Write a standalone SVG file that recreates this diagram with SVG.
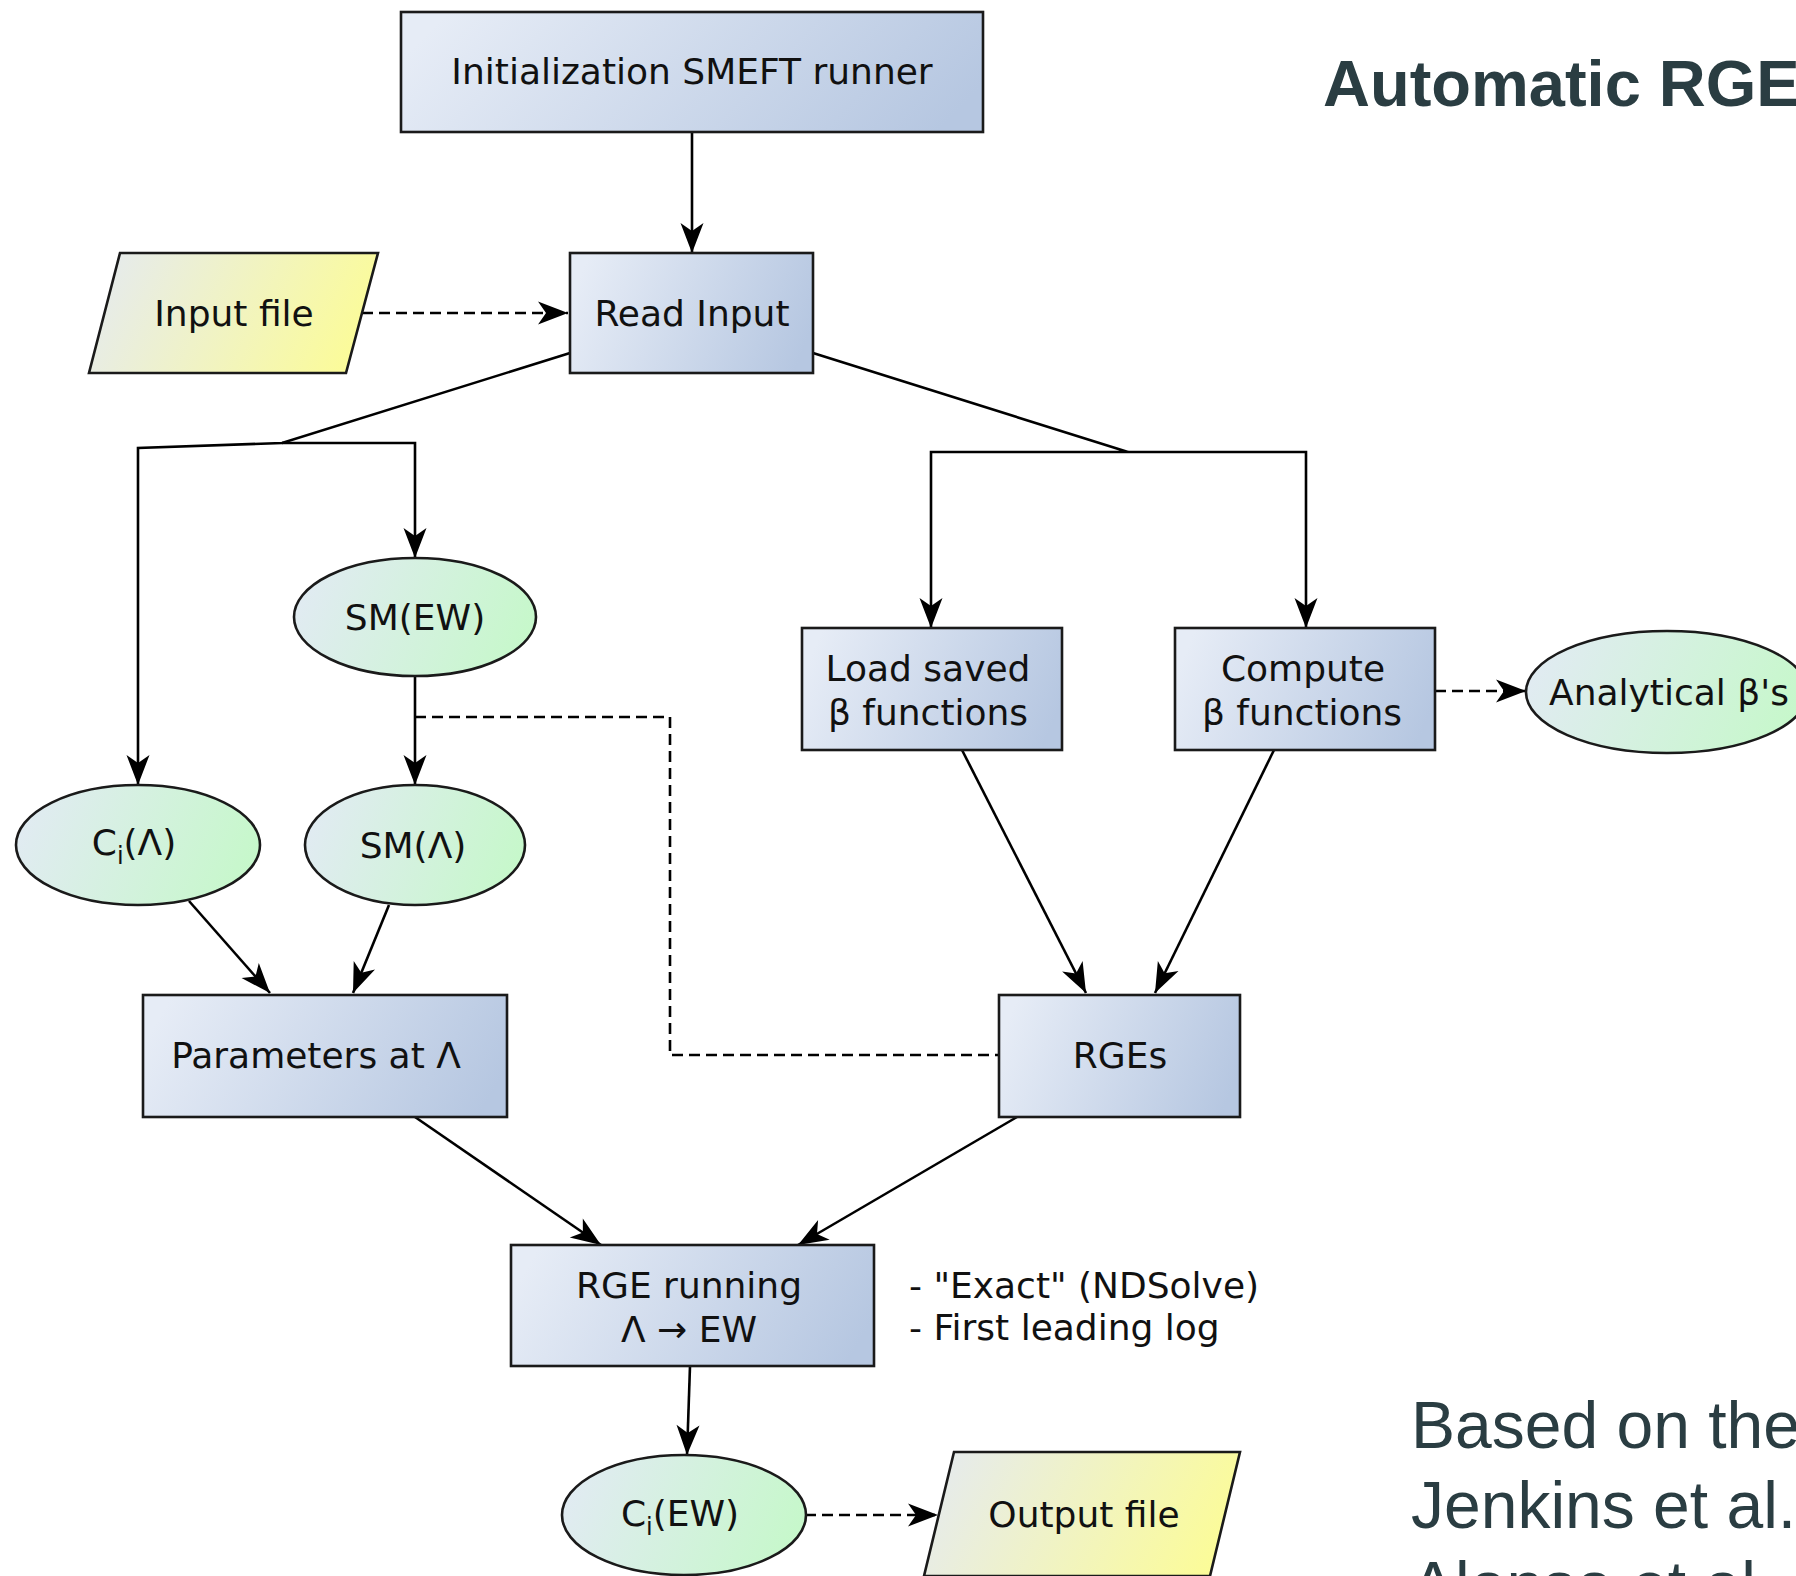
<svg xmlns="http://www.w3.org/2000/svg" width="1796" height="1576" viewBox="0 0 1796 1576">
  <defs>
    <linearGradient id="gBox" x1="0" y1="0.4" x2="1" y2="0.6">
      <stop offset="0" stop-color="#e6ecf6"/>
      <stop offset="1" stop-color="#b6c7e1"/>
    </linearGradient>
    <linearGradient id="gEll" x1="0" y1="0.4" x2="1" y2="0.6">
      <stop offset="0" stop-color="#e1ebf2"/>
      <stop offset="1" stop-color="#c6f8ca"/>
    </linearGradient>
    <linearGradient id="gFile" x1="0" y1="0.4" x2="1" y2="0.6">
      <stop offset="0" stop-color="#e6ebec"/>
      <stop offset="1" stop-color="#fcfc96"/>
    </linearGradient>
    <marker id="arr" viewBox="-32 -13 34 26" markerWidth="34" markerHeight="26" refX="0" refY="0" orient="auto" markerUnits="userSpaceOnUse">
      <path d="M0,0 L-30,-11.5 L-22,0 L-30,11.5 Z" fill="#000"/>
    </marker>
    <style>
      .box { fill: url(#gBox); stroke: #1a1a1a; stroke-width: 2.6; }
      .ell { fill: url(#gEll); stroke: #1a1a1a; stroke-width: 2.6; }
      .file { fill: url(#gFile); stroke: #1a1a1a; stroke-width: 2.6; }
      .lbl { font-family: "DejaVu Sans", "Liberation Sans", sans-serif; font-size: 36px; fill: #111; text-anchor: middle; }
      .note { font-family: "DejaVu Sans", "Liberation Sans", sans-serif; font-size: 36px; fill: #111; }
      .sub { font-size: 24px; }
      .edge { fill: none; stroke: #000; stroke-width: 2.6; }
      .dash { stroke-dasharray: 11 6; }
      .head { font-family: "Liberation Sans", Arial, sans-serif; font-size: 65px; font-weight: bold; fill: #2a3d42; }
      .body { font-family: "Liberation Sans", Arial, sans-serif; font-size: 66px; fill: #2a3d42; }
    </style>
  </defs>

  <rect width="1796" height="1576" fill="#fff"/>

  <!-- connectors -->
  <g id="connectors">
    <line class="edge" x1="692" y1="132" x2="692" y2="253" marker-end="url(#arr)"/>
    <line class="edge dash" x1="362" y1="313" x2="568" y2="313" marker-end="url(#arr)"/>
    <!-- left branch from Read Input -->
    <polyline class="edge" points="570,353 282,443 138,448 138,785" marker-end="url(#arr)"/>
    <polyline class="edge" points="282,443 415,443 415,558" marker-end="url(#arr)"/>
    <line class="edge" x1="415" y1="676" x2="415" y2="785" marker-end="url(#arr)"/>
    <polyline class="edge dash" points="415,717 670,717 670,1055 999,1055"/>
    <!-- right branch from Read Input -->
    <polyline class="edge" points="813,353 1128,452 931,452 931,628" marker-end="url(#arr)"/>
    <polyline class="edge" points="1128,452 1306,452 1306,628" marker-end="url(#arr)"/>
    <line class="edge dash" x1="1435" y1="691" x2="1526" y2="691" marker-end="url(#arr)"/>
    <line class="edge" x1="962" y1="750" x2="1086" y2="993" marker-end="url(#arr)"/>
    <line class="edge" x1="1274" y1="750" x2="1155" y2="993" marker-end="url(#arr)"/>
    <line class="edge" x1="189" y1="901" x2="270" y2="993" marker-end="url(#arr)"/>
    <line class="edge" x1="389" y1="905" x2="353" y2="993" marker-end="url(#arr)"/>
    <line class="edge" x1="415" y1="1117" x2="601" y2="1245" marker-end="url(#arr)"/>
    <line class="edge" x1="1017" y1="1117" x2="798" y2="1245" marker-end="url(#arr)"/>
    <line class="edge" x1="690" y1="1366" x2="687" y2="1455" marker-end="url(#arr)"/>
    <line class="edge dash" x1="805" y1="1515" x2="938" y2="1515" marker-end="url(#arr)"/>
  </g>

  <g id="init">
    <rect class="box" x="401" y="12" width="582" height="120"/>
    <text class="lbl" x="692" y="84">Initialization SMEFT runner</text>
  </g>

  <g id="input-file">
    <polygon class="file" points="120,253 378,253 346,373 89,373"/>
    <text class="lbl" x="234" y="326">Input file</text>
  </g>

  <g id="read-input">
    <rect class="box" x="570" y="253" width="243" height="120"/>
    <text class="lbl" x="692" y="326">Read Input</text>
  </g>

  <g id="sm-ew">
    <ellipse class="ell" cx="415" cy="617" rx="121" ry="59"/>
    <text class="lbl" x="415" y="630">SM(EW)</text>
  </g>

  <g id="ci-lambda">
    <ellipse class="ell" cx="138" cy="845" rx="122" ry="60"/>
    <text class="lbl" x="134" y="855">C<tspan class="sub" dy="9">i</tspan><tspan dy="-9">(Λ)</tspan></text>
  </g>

  <g id="sm-lambda">
    <ellipse class="ell" cx="415" cy="845" rx="110" ry="60"/>
    <text class="lbl" x="413" y="858">SM(Λ)</text>
  </g>

  <g id="load-beta">
    <rect class="box" x="802" y="628" width="260" height="122"/>
    <text class="lbl" x="928" y="681">Load saved</text>
    <text class="lbl" x="928" y="725">β functions</text>
  </g>

  <g id="compute-beta">
    <rect class="box" x="1175" y="628" width="260" height="122"/>
    <text class="lbl" x="1303" y="681">Compute</text>
    <text class="lbl" x="1302" y="725">β functions</text>
  </g>

  <g id="analytical-beta">
    <ellipse class="ell" cx="1667" cy="692" rx="141" ry="61"/>
    <text class="lbl" x="1669" y="705">Analytical β's</text>
  </g>

  <g id="parameters">
    <rect class="box" x="143" y="995" width="364" height="122"/>
    <text class="lbl" x="316" y="1068">Parameters at Λ</text>
  </g>

  <g id="rges">
    <rect class="box" x="999" y="995" width="241" height="122"/>
    <text class="lbl" x="1120" y="1068">RGEs</text>
  </g>

  <g id="rge-running">
    <rect class="box" x="511" y="1245" width="363" height="121"/>
    <text class="lbl" x="689" y="1298">RGE running</text>
    <text class="lbl" x="689" y="1342">Λ → EW</text>
    <text class="note" x="909" y="1298">- "Exact" (NDSolve)</text>
    <text class="note" x="909" y="1340">- First leading log</text>
  </g>

  <g id="ci-ew">
    <ellipse class="ell" cx="684" cy="1515" rx="122" ry="60"/>
    <text class="lbl" x="680" y="1526">C<tspan class="sub" dy="9">i</tspan><tspan dy="-9">(EW)</tspan></text>
  </g>

  <g id="output-file">
    <polygon class="file" points="954,1452 1240,1452 1210,1576 924,1576"/>
    <text class="lbl" x="1084" y="1527">Output file</text>
  </g>

  <!-- side text -->
  <text class="head" x="1323" y="106">Automatic RGE</text>
  <text class="body" x="1411" y="1448">Based on the</text>
  <text class="body" x="1411" y="1528">Jenkins et al.</text>
  <text class="body" x="1411" y="1608">Alonso et al.</text>
</svg>
